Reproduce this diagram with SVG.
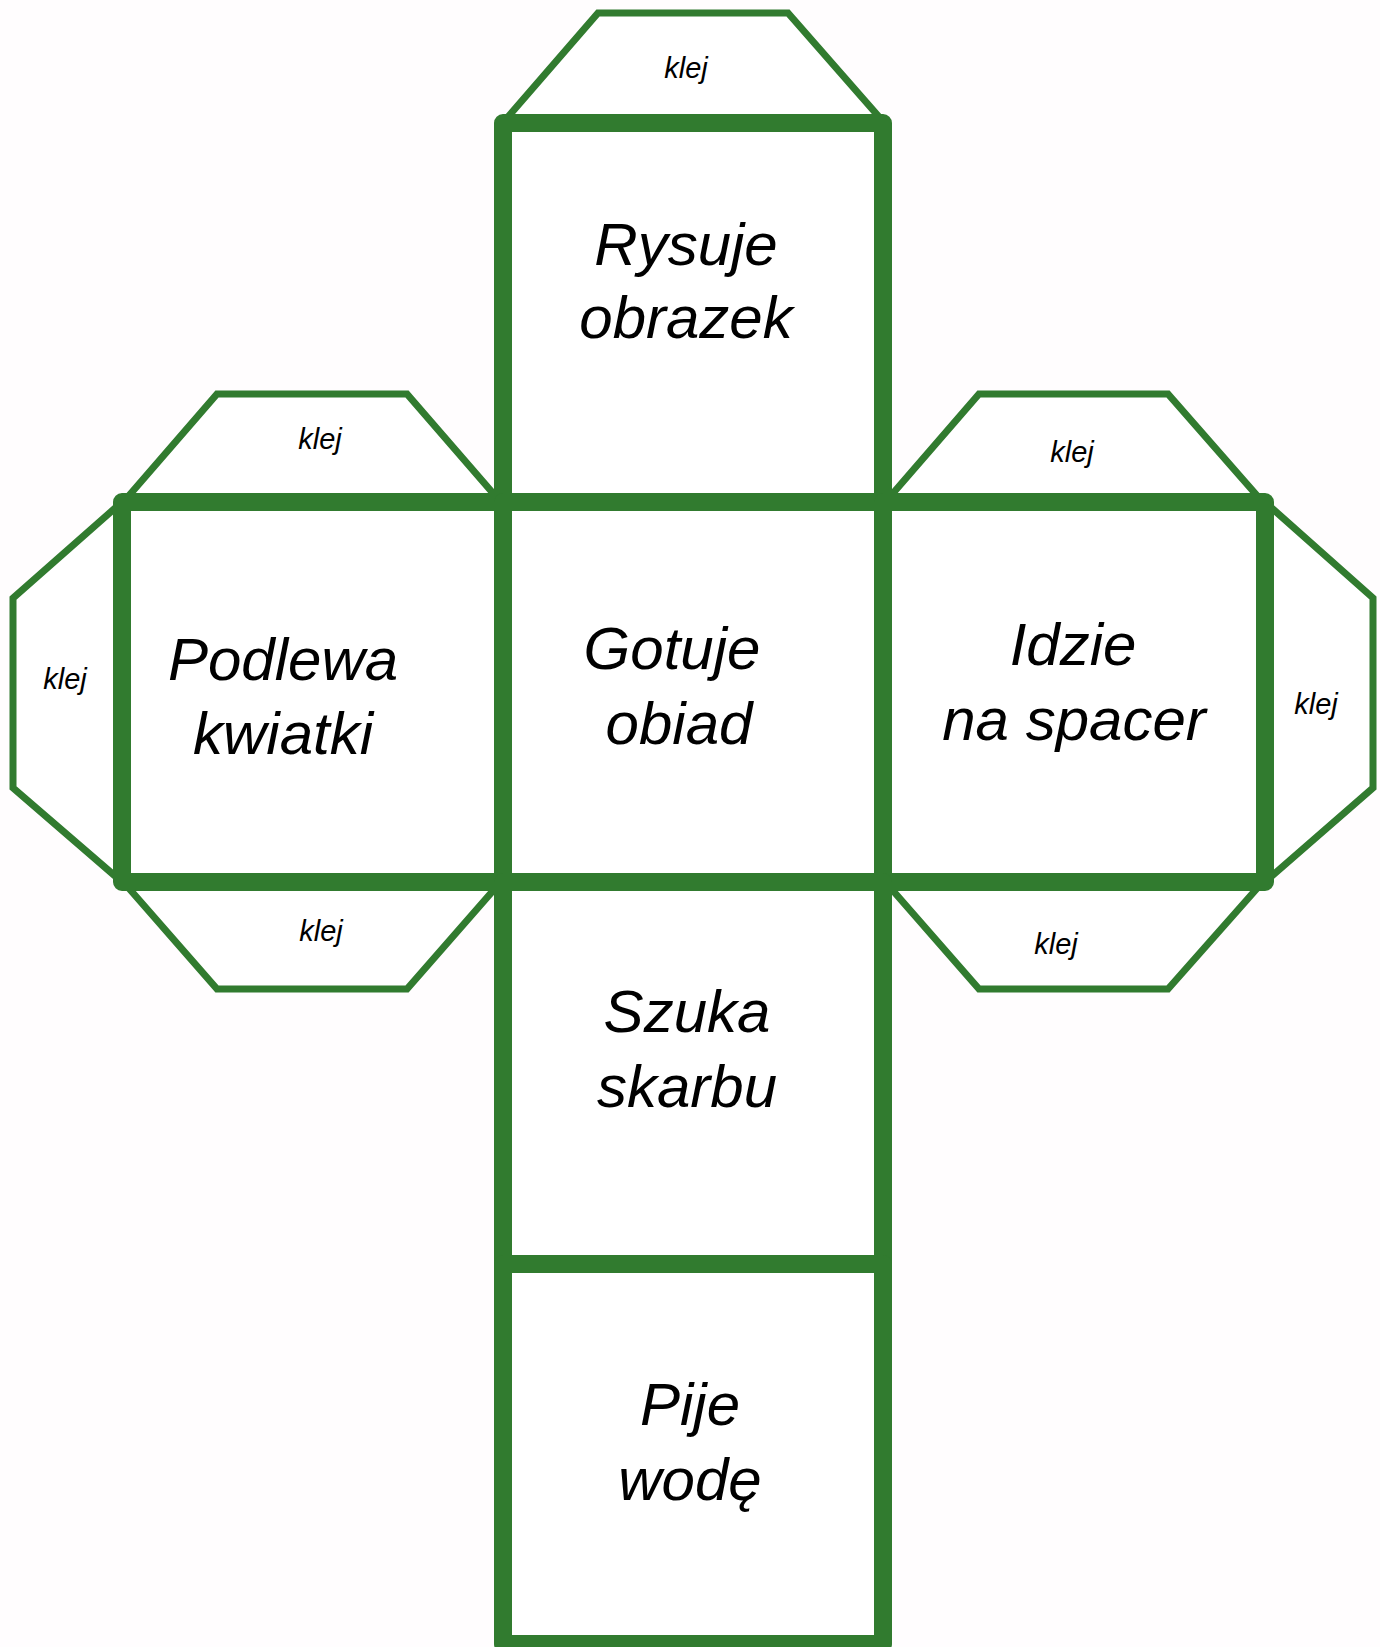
<svg xmlns="http://www.w3.org/2000/svg" width="1380" height="1647" viewBox="0 0 1380 1647">
<style>
.tab{fill:#ffffff;stroke:#317b2f;stroke-width:7;stroke-linejoin:miter}
.face{fill:#ffffff;stroke:#317b2f;stroke-width:18;stroke-linejoin:round}
.big{font-family:"Liberation Sans",Arial,sans-serif;font-style:italic;font-size:60px;fill:#000;text-anchor:middle}
.glue{font-family:"Liberation Sans",Arial,sans-serif;font-style:italic;font-size:29px;fill:#000;text-anchor:middle}
</style>
<rect width="1380" height="1647" fill="#fffdfe"/>
<g id="tabs">
<g id="tab-top"><polygon class="tab" points="507,118 598,13 788,13 880,118"/><text class="glue" x="686" y="78">klej</text></g>
<g id="tab-left-top"><polygon class="tab" points="126,499 217,394 407,394 498,499"/><text class="glue" x="320" y="449">klej</text></g>
<g id="tab-left-side"><polygon class="tab" points="122,502 13,598 13,788 122,882"/><text class="glue" x="65" y="689">klej</text></g>
<g id="tab-left-bottom"><polygon class="tab" points="126,885 217,989 407,989 498,885"/><text class="glue" x="321" y="941">klej</text></g>
<g id="tab-right-top"><polygon class="tab" points="888,499 979,394 1168,394 1260,499"/><text class="glue" x="1072" y="462">klej</text></g>
<g id="tab-right-side"><polygon class="tab" points="1265,502 1373,598 1373,788 1265,882"/><text class="glue" x="1316" y="714">klej</text></g>
<g id="tab-right-bottom"><polygon class="tab" points="888,885 979,989 1168,989 1260,885"/><text class="glue" x="1056" y="954">klej</text></g>
</g>
<g id="faces">
<g id="face-rysuje"><rect class="face" x="503" y="123" width="380" height="379"/><text class="big" x="686" y="265">Rysuje</text><text class="big" x="686" y="338">obrazek</text></g>
<g id="face-podlewa"><rect class="face" x="122" y="502" width="381" height="380"/><text class="big" x="283" y="680">Podlewa</text><text class="big" x="283" y="754">kwiatki</text></g>
<g id="face-gotuje"><rect class="face" x="503" y="502" width="380" height="380"/><text class="big" x="672" y="669">Gotuje</text><text class="big" x="679" y="744">obiad</text></g>
<g id="face-idzie"><rect class="face" x="883" y="502" width="382" height="380"/><text class="big" x="1073" y="665">Idzie</text><text class="big" x="1074" y="740">na spacer</text></g>
<g id="face-szuka"><rect class="face" x="503" y="882" width="380" height="382"/><text class="big" x="687" y="1032">Szuka</text><text class="big" x="687" y="1107">skarbu</text></g>
<g id="face-pije"><rect class="face" x="503" y="1264" width="380" height="380"/><text class="big" x="690" y="1425">Pije</text><text class="big" x="690" y="1500">wodę</text></g>
</g>
<g id="connectors"/>
</svg>
